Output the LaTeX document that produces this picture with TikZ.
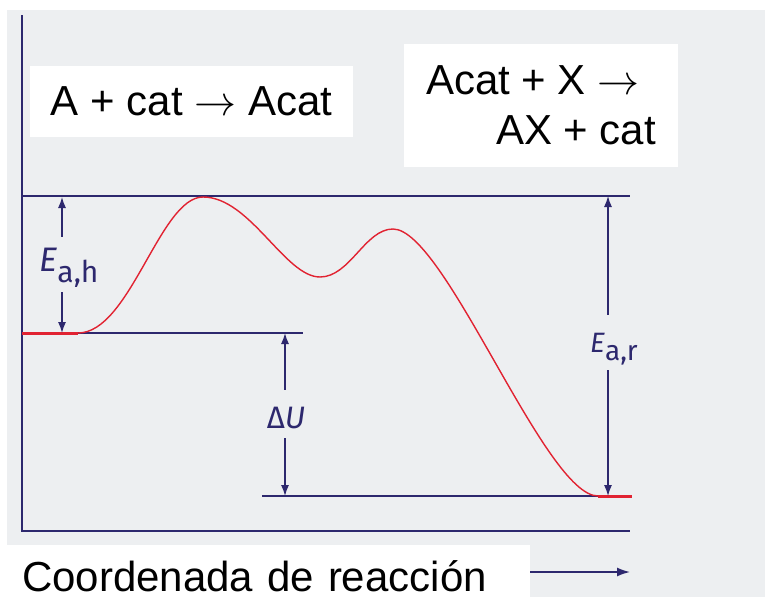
\documentclass[tikz,border=0pt]{standalone}
\usepackage{fix-cm}
\usepackage{fontspec}
\setmainfont{Liberation Sans}
\newfontfamily\lblfont{Fira Sans}
\definecolor{enblue}{RGB}{45,40,110}
\definecolor{enred}{RGB}{225,35,50}
\definecolor{scangray}{RGB}{237,239,241}
\usetikzlibrary{arrows.meta}

\begin{document}
\begin{tikzpicture}[x=1pt,y=-1pt,
  level/.style={enblue,line width=1.6pt},
  dimline/.style={enblue,line width=1.3pt,-{Latex[length=11pt,width=8pt]}},
  curve/.style={enred,line width=1.4pt},
  flat/.style={enred,line width=3pt},
  eqbox/.style={fill=white,font=\fontsize{42}{50}\selectfont,inner sep=0pt},
  lbl/.style={enblue,inner xsep=0pt,inner ysep=10pt}]
  \useasboundingbox (0,0) rectangle (765,597);
  \fill[scangray] (7,10) rectangle (765,597);
  % reaction equations
  \node[eqbox,minimum width=323pt,minimum height=71pt] (step1) at (191.5,101.5) {A + cat $\rightarrow$ Acat};
  \node[eqbox,minimum width=274pt,minimum height=123pt,align=left] (step2) at (541,105.5) {Acat + X $\rightarrow$\\\hspace*{70pt}AX + cat};
  % axes and energy levels
  \coordinate (axtop) at (22,15);
  \coordinate (origin) at (22,531);
  \coordinate (axend) at (630,531);
  \coordinate (hiL) at (22,196);
  \coordinate (hiR) at (630,196);
  \coordinate (reacL) at (22,333);
  \coordinate (reacR) at (303,333);
  \coordinate (prodL) at (262,496);
  \coordinate (prodR) at (632,496);
  \draw[level] (axtop) -- (origin) -- (axend);
  \draw[level] (hiL) -- (hiR);
  \draw[level] (reacL) -- (reacR);
  \draw[level] (prodL) -- (prodR);
  % energy profile
  \coordinate (ts) at (78,333);
  \coordinate (peak1) at (203,197);
  \coordinate (valley) at (320,277);
  \coordinate (peak2) at (393,229);
  \coordinate (te) at (598,496);
  \draw[flat] (reacL) -- (ts);
  \draw[flat] (te) -- (prodR);
  \draw[curve] (ts) .. controls (130,333) and (160,197) .. (peak1)
    .. controls (250,197) and (285,277) .. (valley)
    .. controls (350,277) and (365,229) .. (peak2)
    .. controls (445,229) and (545,496) .. (te);
  % dimension arrows
  \node[lbl,text height=24pt,text depth=11pt] (eah) at (69,264.5)
    {\fontsize{34}{40}\lblfont\selectfont\textit{E}\raisebox{-11pt}{\fontsize{30}{36}\selectfont a,h}};
  \node[lbl,text height=27pt,text depth=8pt] (ear) at (614,342.5)
    {\fontsize{28}{32}\lblfont\selectfont\textit{E}\raisebox{-8pt}{a,r}};
  \node[lbl,text height=28pt,text depth=0pt] (du) at (286,414)
    {\fontsize{31}{36}\lblfont\selectfont Δ\textit{U}};
  \coordinate (eahtop) at (62,197);
  \coordinate (eahbot) at (62,333);
  \coordinate (eartop) at (608,196);
  \coordinate (earbot) at (608,496);
  \coordinate (dutop) at (285,333);
  \coordinate (dubot) at (285,496);
  \draw[dimline] (eah.north -| eahtop) -- (eahtop);
  \draw[dimline] (eah.south -| eahbot) -- (eahbot);
  \draw[dimline] (ear.north -| eartop) -- (eartop);
  \draw[dimline] (ear.south -| earbot) -- (earbot);
  \draw[dimline] (du.north -| dutop) -- (dutop);
  \draw[dimline] (du.south -| dubot) -- (dubot);
  % reaction coordinate
  \node[eqbox,anchor=south west,inner xsep=22pt,inner ysep=5pt,text width=486pt,align=left,text height=42pt,text depth=0pt] (xlabel) at (0,597) {Coordenada de reacción};
  \coordinate (xtip) at (630,572);
  \draw[enblue,line width=1.6pt,-{Latex[length=13pt,width=9pt]}] (xlabel.east |- xtip) -- (xtip);
\end{tikzpicture}
\end{document}
